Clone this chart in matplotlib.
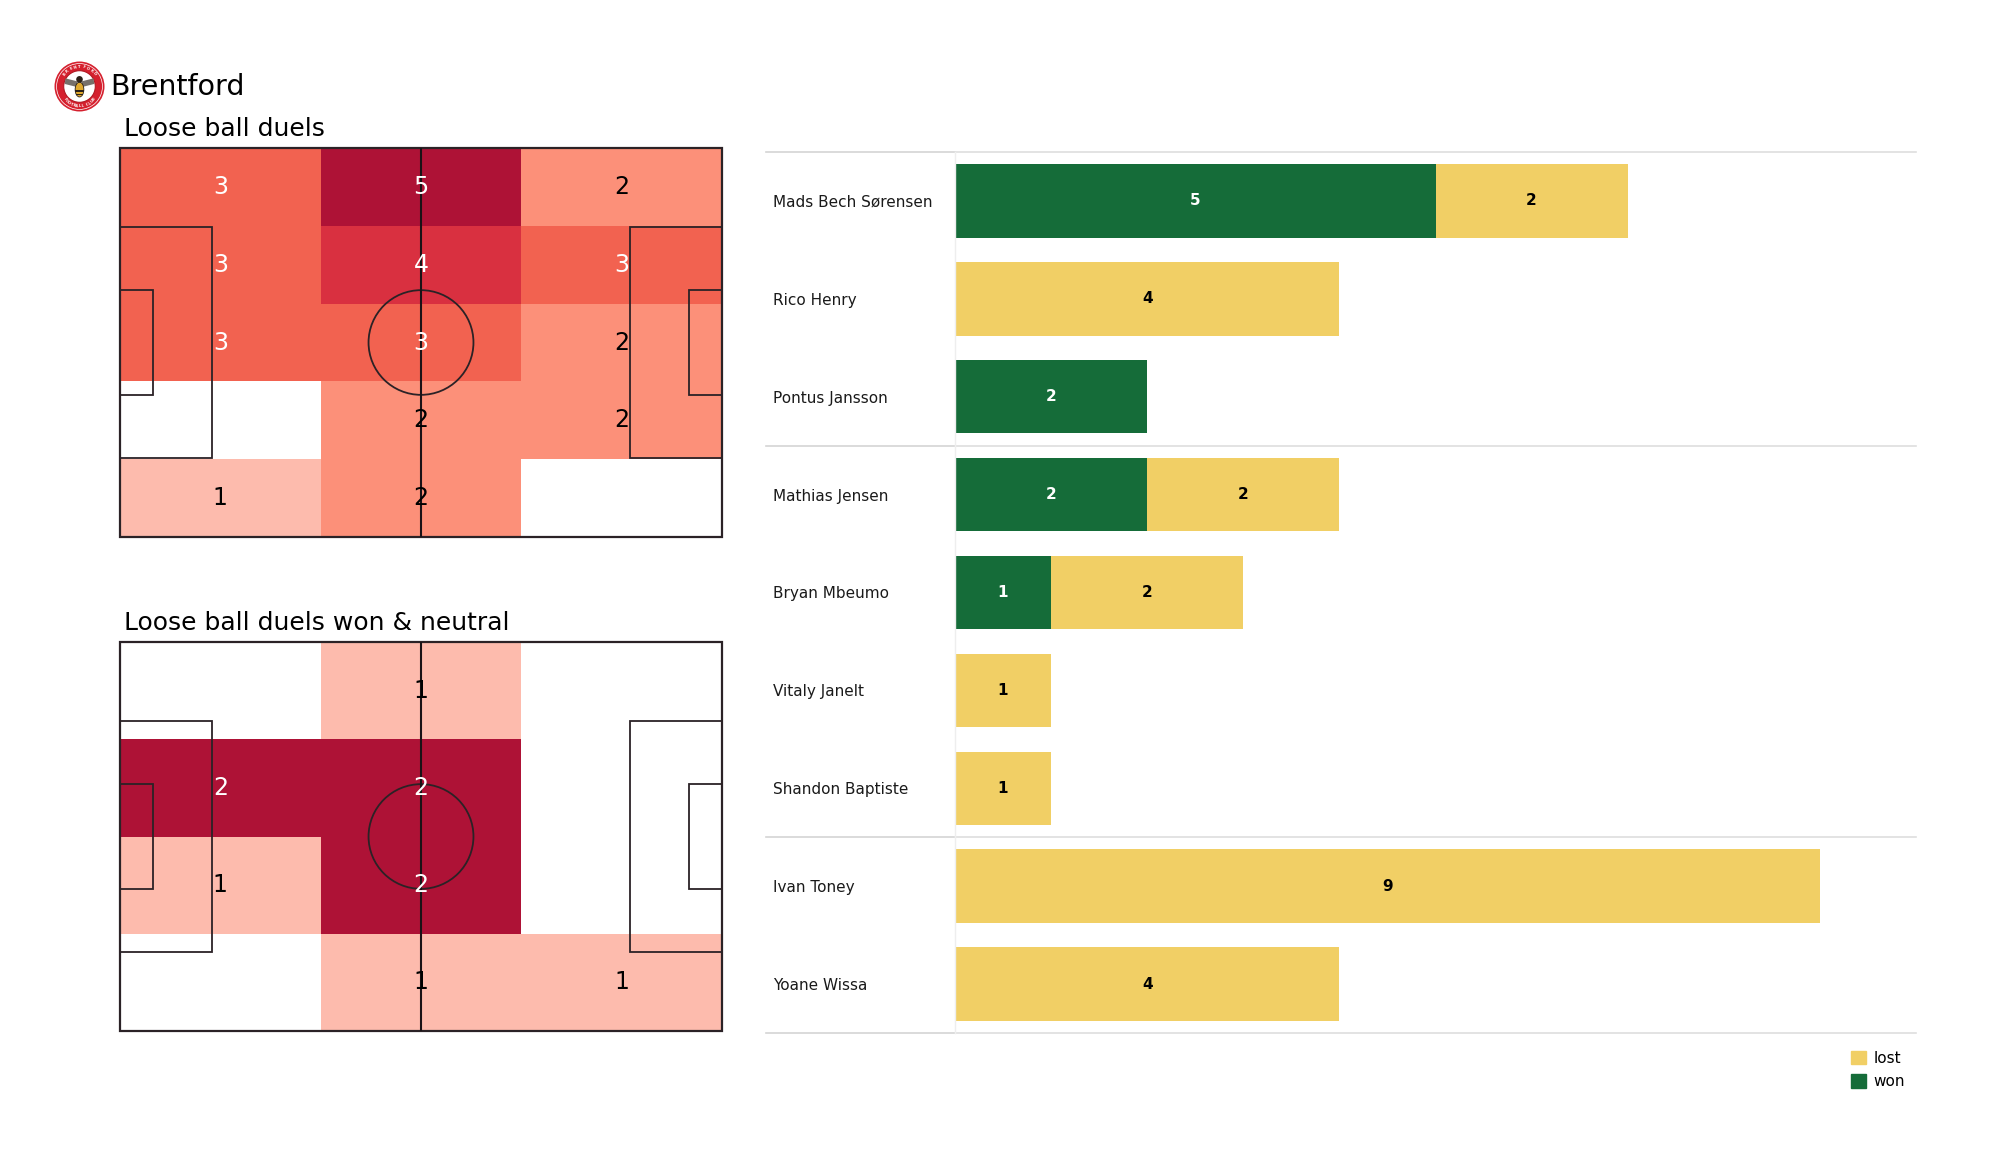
import matplotlib
matplotlib.use('Agg')
import matplotlib.pyplot as plt
import numpy as np
from matplotlib.colors import ListedColormap, BoundaryNorm
from matplotlib.patches import Rectangle, Ellipse, Circle, Patch, Polygon

# pitch counts, top row of the picture first
all_duels = [[3, 5, 2],
             [3, 4, 3],
             [3, 3, 2],
             [0, 2, 2],
             [1, 2, 0]]
won_duels = [[0, 1, 0],
             [2, 2, 0],
             [1, 2, 0],
             [0, 1, 1]]

players = ['Mads Bech Sørensen', 'Rico Henry', 'Pontus Jansson', 'Mathias Jensen',
           'Bryan Mbeumo', 'Vitaly Janelt', 'Shandon Baptiste', 'Ivan Toney', 'Yoane Wissa']
won = [5, 0, 2, 2, 1, 0, 0, 0, 0]
lost = [2, 4, 0, 2, 2, 1, 1, 9, 4]
group_lines = [-0.5, 2.5, 6.5, 8.5]

all_colors = ['#ffffff', '#fdbbad', '#fc9079', '#f26250', '#d93040', '#ae1236']
won_colors = ['#ffffff', '#fdbbad', '#ae1236']
GREEN = '#156c39'
YELLOW = '#f1cf65'
W, H = 2000, 1175


def px_axes(fig, left, top, right, bottom):
    return fig.add_axes([left / W, 1 - bottom / H, (right - left) / W, (bottom - top) / H])


def draw_pitch(ax, counts, colors, white_from, title):
    counts = np.array(counts)
    xe = np.linspace(0, 105, counts.shape[1] + 1)
    ye = np.linspace(68, 0, counts.shape[0] + 1)
    norm = BoundaryNorm(np.arange(len(colors) + 1) - 0.5, len(colors))
    ax.pcolormesh(xe, ye, counts, cmap=ListedColormap(colors), norm=norm)

    lc = '#2b2226'
    lw = 1.3
    ax.add_patch(Rectangle((0, 0), 105, 68, fc='none', ec=lc, lw=lw + 0.3, clip_on=False))
    ax.plot([52.5, 52.5], [0, 68], color='#1a1216', lw=lw + 0.2)
    ax.add_patch(Ellipse((52.5, 34), 18.3, 18.3, fc='none', ec=lc, lw=lw))
    for x, w in [(0, 16), (89, 16), (0, 5.8), (99.2, 5.8)]:
        h = 40.3 if w == 16 else 18.3
        ax.add_patch(Rectangle((x, 34 - h / 2), w, h, fc='none', ec=lc, lw=lw))

    for r, row in enumerate(counts):
        for c, v in enumerate(row):
            if v > 0:
                ax.text((xe[c] + xe[c + 1]) / 2, (ye[r] + ye[r + 1]) / 2, str(v), fontsize=17,
                        ha='center', va='center', color='white' if v >= white_from else 'black')
    ax.set_xlim(0, 105)
    ax.set_ylim(0, 68)
    ax.axis('off')
    ax.text(0.006, 1.031, title, transform=ax.transAxes, fontsize=18, ha='left', va='baseline')


def draw_logo(fig):
    ax = px_axes(fig, 54, 61, 105, 112)
    ax.set_xlim(-1, 1)
    ax.set_ylim(-1, 1)
    ax.axis('off')
    ax.add_patch(Circle((0, 0), 0.98, fc='#d5202e', ec='none'))
    ax.add_patch(Circle((0, 0), 0.9, fc='none', ec='white', lw=0.5))
    ax.add_patch(Circle((0, 0), 0.62, fc='white', ec='#b01822', lw=0.8))
    # wings
    ax.add_patch(Polygon([[-0.08, 0.2], [-0.55, 0.32], [-0.58, 0.1], [-0.1, -0.02]], fc='#77706a', ec='none'))
    ax.add_patch(Polygon([[0.08, 0.2], [0.55, 0.32], [0.58, 0.1], [0.1, -0.02]], fc='#77706a', ec='none'))
    # body
    ax.add_patch(Ellipse((0, -0.12), 0.34, 0.58, fc='#e0a92e', ec='#2a2018', lw=0.6))
    ax.add_patch(Rectangle((-0.16, -0.2), 0.32, 0.07, fc='#2a2018', ec='none'))
    ax.add_patch(Rectangle((-0.15, -0.34), 0.3, 0.06, fc='#2a2018', ec='none'))
    ax.add_patch(Circle((0, 0.28), 0.13, fc='#2a2018', ec='none'))
    for txt, a0, a1, sgn in [('BRENTFORD', 140, 40, -90), ('FOOTBALL CLUB', 222, 318, 90)]:
        for ch, a in zip(txt, np.linspace(a0, a1, len(txt))):
            t = np.radians(a)
            ax.text(0.77 * np.cos(t), 0.77 * np.sin(t), ch, color='white', fontsize=2.6,
                    fontweight='bold', ha='center', va='center', rotation=a + sgn)


fig = plt.figure(figsize=(20, 11.75), dpi=100)

draw_logo(fig)
fig.text(110 / W, 1 - 95 / H, 'Brentford', fontsize=20.5, ha='left', va='baseline')

ax1 = px_axes(fig, 120, 148, 722, 537)
draw_pitch(ax1, all_duels, all_colors, 3, 'Loose ball duels')
ax2 = px_axes(fig, 120, 642, 722, 1031)
draw_pitch(ax2, won_duels, won_colors, 2, 'Loose ball duels won & neutral')

# bars
ax = px_axes(fig, 955, 152, 1916, 1033)
y = np.arange(len(players))
won_bars = ax.barh(y, won, height=0.75, color=GREEN)
lost_bars = ax.barh(y, lost, left=won, height=0.75, color=YELLOW)
ax.bar_label(won_bars, labels=[str(v) if v else '' for v in won], label_type='center',
             color='white', fontweight='bold', fontsize=11)
ax.bar_label(lost_bars, labels=[str(v) if v else '' for v in lost], label_type='center',
             color='black', fontweight='bold', fontsize=11)

ax.set_xlim(0, 10)
ax.set_ylim(8.5, -0.5)
ax.set_xticks([])
ax.set_yticks(y, players, fontsize=11, color='#1a1a1a')
ax.tick_params(axis='y', length=0, pad=131)
for lab in ax.get_yticklabels():
    lab.set_ha('left')
for s in ['top', 'right', 'bottom']:
    ax.spines[s].set_visible(False)
ax.spines['left'].set_color('#eeeeee')
ax.spines['left'].set_linewidth(1)
for g in group_lines:
    ax.plot([-0.197, 0], [g, g], transform=ax.get_yaxis_transform(), color='#d4d4d4', lw=1.2, clip_on=False)
    ax.plot([0, 1], [g, g], transform=ax.get_yaxis_transform(), color='#dedede', lw=1.2, clip_on=False)

handles = [Patch(color=YELLOW, label='lost'), Patch(color=GREEN, label='won')]
fig.legend(handles=handles, loc='upper left', bbox_to_anchor=(1837 / W, 1 - 1037 / H), frameon=False,
           fontsize=11, handlelength=1, handleheight=1, handletextpad=0.5, labelspacing=0.55)

plt.savefig('out.png', dpi=100)
